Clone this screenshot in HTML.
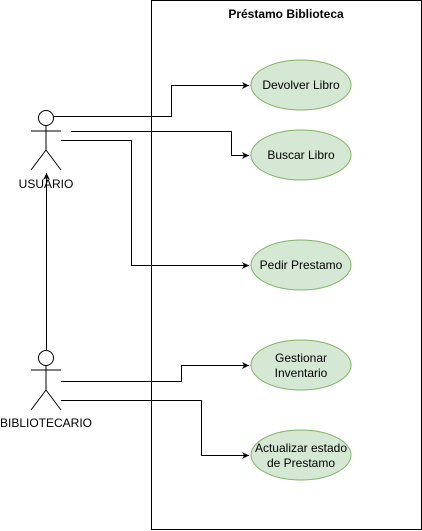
<!DOCTYPE html>
<html><head><style>html,body{margin:0;padding:0;background:#fff}svg{display:block}</style></head>
<body>
<svg width="422" height="531" xmlns="http://www.w3.org/2000/svg" font-family="Liberation Sans, sans-serif">
<defs><marker id="a" markerWidth="8" markerHeight="8" refX="7" refY="4" orient="auto" markerUnits="userSpaceOnUse"><path d="M0,0.5 L7,4 L0,7.5 L2,4 Z" fill="#000"/></marker></defs>
<rect x="151.5" y="0.5" width="270" height="529" fill="#fff" stroke="#000"/>
<text x="286" y="18" font-size="12" font-weight="bold" text-anchor="middle">Préstamo Biblioteca</text>
<g fill="#d5e8d4" stroke="#82b366">
<ellipse cx="301" cy="85" rx="50" ry="25"/>
<ellipse cx="301" cy="155" rx="50" ry="25"/>
<ellipse cx="301" cy="265" rx="50" ry="25"/>
<ellipse cx="301" cy="365" rx="50" ry="25"/>
<ellipse cx="301" cy="455" rx="50" ry="25"/>
</g>
<g font-size="12" text-anchor="middle" fill="#000">
<text x="301" y="89">Devolver Libro</text>
<text x="301" y="159">Buscar Libro</text>
<text x="301" y="269">Pedir Prestamo</text>
<text x="301" y="362">Gestionar</text>
<text x="301" y="377">Inventario</text>
<text x="301" y="452">Actualizar estado</text>
<text x="301" y="467">de Prestamo</text>
<text x="46" y="188">USUARIO</text>
<text x="46" y="427">BIBLIOTECARIO</text>
</g>
<g fill="none" stroke="#000">
<circle cx="46" cy="118" r="7.5" fill="#fff"/>
<path d="M46,125.5V150M31,131H61M46,150L31,170M46,150L61,170"/>
<circle cx="46" cy="358" r="7.5" fill="#fff"/>
<path d="M46,365.5V390M31,370H61M46,390L31,410M46,390L61,410"/>
<path d="M53.5,116.5H171.5V85.5H249" marker-end="url(#a)"/>
<path d="M71,131.5H231.5V155.5H249" marker-end="url(#a)"/>
<path d="M61,140.5H131.5V265.5H249" marker-end="url(#a)"/>
<path d="M46.5,350V173" marker-end="url(#a)"/>
<path d="M61,381.5H181.5V365.5H249" marker-end="url(#a)"/>
<path d="M61,400.5H201.5V455.5H249" marker-end="url(#a)"/>
</g>
</svg>
</body></html>
